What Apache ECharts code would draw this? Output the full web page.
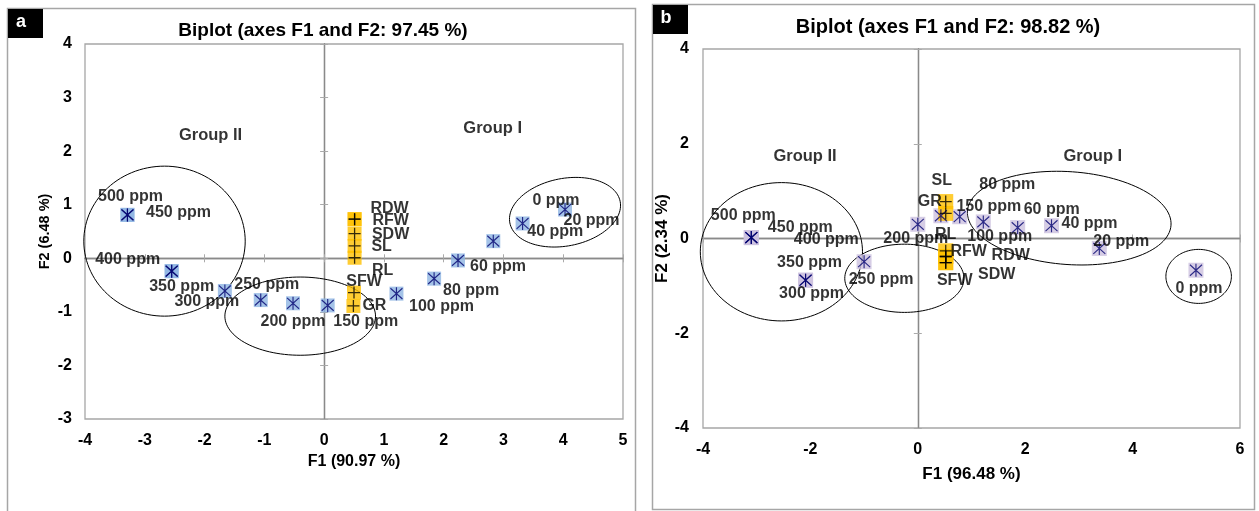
<!DOCTYPE html>
<html>
<head>
<meta charset="utf-8">
<script src="https://cdn.jsdelivr.net/npm/echarts@6/dist/echarts.min.js"></script>
<style>
html,body{margin:0;padding:0;background:#fff;}
#chart{width:1259px;height:511px;}
</style>
</head>
<body>
<div id="chart"></div>
<script>
// ---------- DATA ----------
const obsNames = ['0 ppm','20 ppm','40 ppm','60 ppm','80 ppm','100 ppm','150 ppm','200 ppm','250 ppm','300 ppm','350 ppm','400 ppm','450 ppm','500 ppm'];

// Panel a observations (F1, F2)
const aObsF1 = [4.03, 3.32, 2.83, 2.24, 1.84, 1.21, 0.06, -0.52, -1.06, -1.66, -2.55, -2.55, -3.29, -3.29];
const aObsF2 = [0.91, 0.65, 0.32, -0.04, -0.38, -0.66, -0.88, -0.84, -0.78, -0.61, -0.24, -0.24, 0.81, 0.81];
// Panel a variables
const aVarNames = ['RDW','RFW','SDW','SL','RL','SFW','GR'];
const aVarF1 = [0.51, 0.51, 0.51, 0.51, 0.51, 0.50, 0.49];
const aVarF2 = [0.73, 0.73, 0.46, 0.23, 0.01, -0.64, -0.89];

// Panel b observations
const bObsF1 = [5.18, 3.38, 2.49, 1.86, 1.22, 0.78, 0.43, 0.00, -1.00, -2.09, -2.09, -3.10, -3.10, -3.10];
const bObsF2 = [-0.67, -0.21, 0.27, 0.23, 0.35, 0.46, 0.48, 0.30, -0.49, -0.88, -0.88, 0.02, 0.02, 0.02];
// Panel b variables
const bVarNames = ['SL','GR','RL','RFW','RDW','SFW','SDW'];
const bVarF1 = [0.52, 0.52, 0.52, 0.52, 0.52, 0.52, 0.52];
const bVarF2 = [0.78, 0.53, -0.26, -0.38, -0.38, -0.51, -0.51];

// Group ellipses [cx, cy, rx, ry, rotationDeg] in axis units
const aEllipses = [[-2.67, 0.32, 1.35, 1.40, 0], [-0.40, -1.08, 1.26, 0.73, 0], [4.03, 0.86, 0.94, 0.63, 11]];
const bEllipses = [[-2.54, -0.28, 1.51, 1.46, 0], [-0.25, -0.84, 1.11, 0.72, 0], [2.82, 0.43, 1.90, 0.98, -4], [5.23, -0.80, 0.61, 0.57, 0]];

// Group annotations
const groupNames = ['Group II', 'Group I'];
const aGroupF1 = [-1.90, 2.82];
const aGroupF2 = [2.29, 2.42];
const bGroupF1 = [-2.10, 3.26];
const bGroupF2 = [1.74, 1.74];

// Axes
const aXRange = [-4, 5, 1], aYRange = [-3, 4, 1];
const bXRange = [-4, 6, 2], bYRange = [-4, 4, 2];
const titles = ['Biplot (axes F1 and F2: 97.45 %)', 'Biplot (axes F1 and F2: 98.82 %)'];
const xNames = ['F1 (90.97 %)', 'F1 (96.48 %)'];
const yNames = ['F2 (6.48 %)', 'F2 (2.34 %)'];
const panelLetters = ['a', 'b'];

// ---------- STYLE (label offsets in px) ----------
const aObsOff = [[-9,-9],[69,-3],[62,-10],[40,6],[37,12],[45,13],[38,16],[0,18],[6,-15],[-18,11],[10,15],[-44,-12],[51,-2],[3,-18]];
const aVarOff = [[35,-11],[36,1],[36,1],[27,1],[28,13],[10,-11],[21,0]];
const bObsOff = [[3,18],[22,-7],[38,-2],[34,-18],[24,-37],[40,20],[48,-9],[-2,14],[17,18],[6,13],[4,-18],[75,2],[49,-10],[-8,-22]];
const bVarOff = [[-4,-21],[-16,-12],[0,-16],[23,-5],[65,-1],[9,18],[51,12]];

const FONT = 'Liberation Sans, Arial, sans-serif';
const ASTER = 'path://M0,0L10,10M10,0L0,10M5,-1L5,11';
const CROSS = 'path://M5,0L5,10M0,5L10,5';

function pts(f1, f2, names, offs) {
  return f1.map((x, i) => ({ value: [x, f2[i]], name: names[i], label: { offset: offs ? offs[i] : [0, 0] } }));
}

function mainX(g, r, name, margin, gap, nameSize) {
  return { type: 'value', gridIndex: g, min: r[0], max: r[1], interval: r[2], position: 'bottom',
    axisLine: { show: false, onZero: false }, axisTick: { show: false }, splitLine: { show: false },
    axisLabel: { color: '#000', fontWeight: 'bold', fontSize: 16, fontFamily: FONT, margin: margin },
    name: name, nameLocation: 'middle', nameGap: gap,
    nameTextStyle: { color: '#000', fontWeight: 'bold', fontSize: nameSize, fontFamily: FONT } };
}
function mainY(g, r, name, margin, gap, nameSize) {
  return { type: 'value', gridIndex: g, min: r[0], max: r[1], interval: r[2], position: 'left',
    axisLine: { show: false, onZero: false }, axisTick: { show: false }, splitLine: { show: false },
    axisLabel: { color: '#000', fontWeight: 'bold', fontSize: 16, fontFamily: FONT, margin: margin },
    name: name, nameLocation: 'middle', nameGap: gap, nameRotate: 90,
    nameTextStyle: { color: '#000', fontWeight: 'bold', fontSize: nameSize, fontFamily: FONT } };
}
function zeroAxis(g, r, pos, inside) {
  return { type: 'value', gridIndex: g, min: r[0], max: r[1], interval: r[2], position: pos,
    axisLine: { show: true, onZero: true, lineStyle: { color: '#8a8a8a', width: 1.3 } },
    axisTick: { show: true, inside: inside, length: 4, lineStyle: { color: '#aaaaaa', width: 1 } },
    axisLabel: { show: false }, splitLine: { show: false } };
}

function ellipseSeries(xi, yi, data) {
  return {
    type: 'custom', xAxisIndex: xi, yAxisIndex: yi, clip: false, silent: true, z: 1,
    dimensions: ['cx', 'cy', 'rx', 'ry', 'rot'], encode: { x: 0, y: 1 },
    data: data,
    renderItem: function (params, api) {
      const c = api.coord([api.value(0), api.value(1)]);
      const s = api.size([api.value(2), api.value(3)]);
      const r = api.value(4) * Math.PI / 180;
      const points = [];
      for (let k = 0; k <= 120; k++) {
        const t = k / 120 * Math.PI * 2;
        const ex = s[0] * Math.cos(t), ey = s[1] * Math.sin(t);
        points.push([c[0] + ex * Math.cos(r) + ey * Math.sin(r), c[1] - ex * Math.sin(r) + ey * Math.cos(r)]);
      }
      return { type: 'polygon', shape: { points: points }, style: { fill: 'none', stroke: '#000', lineWidth: 1 } };
    }
  };
}

const labelStyle = { show: true, position: 'inside', formatter: '{b}', color: '#000', fontWeight: 'bold', fontSize: 16, fontFamily: FONT };

function panelSeries(xi, yi, obsF1, obsF2, obsOff, varNames, varF1, varF2, varOff, gF1, gF2, ells, sqColor, sqSize) {
  return [
    ellipseSeries(xi, yi, ells),
    { type: 'scatter', xAxisIndex: xi, yAxisIndex: yi, symbol: 'rect', symbolSize: sqSize, silent: true, z: 2,
      itemStyle: { color: sqColor }, data: pts(obsF1, obsF2, obsNames) },
    { type: 'scatter', xAxisIndex: xi, yAxisIndex: yi, symbol: 'rect', symbolSize: sqSize, silent: true, z: 2,
      itemStyle: { color: '#FFC000' }, data: pts(varF1, varF2, varNames) },
    { type: 'scatter', xAxisIndex: xi, yAxisIndex: yi, symbol: ASTER, symbolSize: [12, 13], silent: true, z: 3,
      itemStyle: { color: 'rgba(0,0,0,0)', borderColor: '#00006e', borderWidth: 1.2 },
      label: labelStyle, data: pts(obsF1, obsF2, obsNames, obsOff) },
    { type: 'scatter', xAxisIndex: xi, yAxisIndex: yi, symbol: CROSS, symbolSize: 12, silent: true, z: 3,
      itemStyle: { color: 'rgba(0,0,0,0)', borderColor: '#000', borderWidth: 1.3 },
      label: labelStyle, data: pts(varF1, varF2, varNames, varOff) },
    { type: 'scatter', xAxisIndex: xi, yAxisIndex: yi, symbol: 'circle', symbolSize: 1, silent: true, z: 3,
      itemStyle: { color: 'rgba(0,0,0,0)' },
      label: Object.assign({}, labelStyle, { fontSize: 16.5 }), data: pts(gF1, gF2, groupNames) }
  ];
}

const chart = echarts.init(document.getElementById('chart'), null, { renderer: 'canvas' });

const option = {
  animation: false,
  backgroundColor: '#fff',
  grid: [
    { left: 85, top: 44, width: 538, height: 375, show: true, borderColor: '#a6a6a6', borderWidth: 1.3, backgroundColor: 'rgba(0,0,0,0)' },
    { left: 703, top: 49, width: 537, height: 379, show: true, borderColor: '#a6a6a6', borderWidth: 1.3, backgroundColor: 'rgba(0,0,0,0)' }
  ],
  xAxis: [
    mainX(0, aXRange, xNames[0], 14, 35, 16),
    zeroAxis(0, aXRange, 'bottom', true),
    zeroAxis(0, aXRange, 'bottom', false),
    mainX(1, bXRange, xNames[1], 14, 38, 17),
    zeroAxis(1, bXRange, 'bottom', true),
    zeroAxis(1, bXRange, 'bottom', false)
  ],
  yAxis: [
    mainY(0, aYRange, yNames[0], 13, 33, 14.5),
    zeroAxis(0, aYRange, 'left', true),
    zeroAxis(0, aYRange, 'left', false),
    mainY(1, bYRange, yNames[1], 14, 28, 17),
    zeroAxis(1, bYRange, 'left', true),
    zeroAxis(1, bYRange, 'left', false)
  ],
  graphic: [
    { type: 'rect', shape: { x: 7.5, y: 8.5, width: 628, height: 530 }, style: { fill: 'none', stroke: '#a6a6a6', lineWidth: 1.5 }, silent: true, z: -1 },
    { type: 'rect', shape: { x: 652.5, y: 4.5, width: 602, height: 505 }, style: { fill: 'none', stroke: '#a6a6a6', lineWidth: 1.5 }, silent: true, z: -1 },
    { type: 'rect', shape: { x: 8, y: 9, width: 35, height: 29 }, style: { fill: '#000' }, silent: true },
    { type: 'rect', shape: { x: 653, y: 5, width: 35, height: 29 }, style: { fill: '#000' }, silent: true },
    { type: 'text', x: 21, y: 22, silent: true, style: { text: panelLetters[0], fill: '#fff', font: 'bold 18px ' + FONT, align: 'center', verticalAlign: 'middle', textAlign: 'center', textVerticalAlign: 'middle' } },
    { type: 'text', x: 666, y: 18, silent: true, style: { text: panelLetters[1], fill: '#fff', font: 'bold 18px ' + FONT, align: 'center', verticalAlign: 'middle', textAlign: 'center', textVerticalAlign: 'middle' } },
    { type: 'text', x: 323, y: 31, silent: true, style: { text: titles[0], fill: '#000', font: 'bold 19px ' + FONT, align: 'center', verticalAlign: 'middle', textAlign: 'center', textVerticalAlign: 'middle' } },
    { type: 'text', x: 948, y: 27, silent: true, style: { text: titles[1], fill: '#000', font: 'bold 20px ' + FONT, align: 'center', verticalAlign: 'middle', textAlign: 'center', textVerticalAlign: 'middle' } }
  ],
  series: [].concat(
    panelSeries(0, 0, aObsF1, aObsF2, aObsOff, aVarNames, aVarF1, aVarF2, aVarOff, aGroupF1, aGroupF2, aEllipses, '#8DB4E2', 14),
    panelSeries(3, 3, bObsF1, bObsF2, bObsOff, bVarNames, bVarF1, bVarF2, bVarOff, bGroupF1, bGroupF2, bEllipses, '#CCC1DF', 15)
  )
};

chart.setOption(option);
</script>
</body>
</html>
